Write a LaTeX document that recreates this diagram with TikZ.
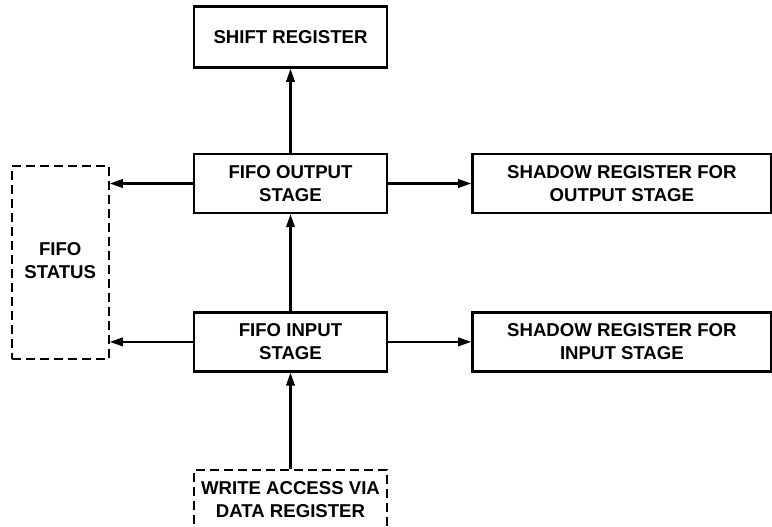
\documentclass[tikz,border=0pt]{standalone}
\usepackage{fontspec}
\setmainfont{Liberation Sans}
\usetikzlibrary{arrows.meta, positioning, calc}

\begin{document}
\begin{tikzpicture}[node distance=84pt, >={Triangle[length=13pt,width=8.5pt]},
    block/.style={draw, rectangle, line width=2.4pt, align=center, font=\fontsize{18.6}{23}\selectfont\bfseries, minimum height=59pt},
    dashblock/.style={block, line width=2.2pt, dash pattern=on 9pt off 5pt},
    link/.style={->, line width=2.1pt}]
    \useasboundingbox (0,0) rectangle (772pt,-527pt);
    % FIFO stages
    \node (outstage) [block, minimum width=193pt] at (290.5pt,-183.5pt) {FIFO OUTPUT\\STAGE};
    \node (shift) [block, minimum width=193pt, minimum height=61pt, above=84pt of outstage] {SHIFT REGISTER};
    \node (instage) [block, minimum width=193pt, below=97pt of outstage] {FIFO INPUT\\STAGE};
    \node (write) [dashblock, minimum width=193pt, below=96pt of instage] {WRITE ACCESS VIA\\DATA REGISTER};
    % shadow registers
    \node (shadowout) [block, minimum width=299pt, right=83pt of outstage] {SHADOW REGISTER FOR\\OUTPUT STAGE};
    \node (shadowin) [block, minimum width=299pt, right=83pt of instage] {SHADOW REGISTER FOR\\INPUT STAGE};
    % status
    \coordinate (mid) at ($(outstage.west)!0.5!(instage.west)$);
    \node (status) [dashblock, minimum width=97pt, minimum height=193pt, left=83pt of mid] {\raisebox{7pt}{\begin{tabular}{@{}c@{}}FIFO\\STATUS\end{tabular}}};
    \draw[link] (outstage) -- (shift);
    \draw[link] (instage) -- (outstage);
    \draw[link] (write) -- (instage);
    \draw[link] (outstage) -- (shadowout);
    \draw[link] (instage) -- (shadowin);
    \draw[link] (outstage.west) -- (outstage.west -| status.east);
    \draw[link] (instage.west) -- (instage.west -| status.east);
\end{tikzpicture}
\end{document}
